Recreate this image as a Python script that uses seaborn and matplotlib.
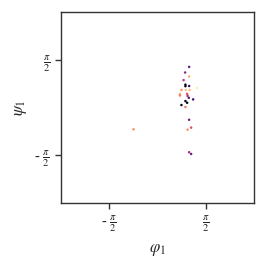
import numpy as np
import pandas as pd
import seaborn as sns
import matplotlib
matplotlib.use('Agg')
import matplotlib.pyplot as plt

# 二面角数据 (弧度)
phi = [1.03, 0.90, 1.03, 0.85, 0.91, 0.91, 1.03, 1.28, 0.78, 0.92,
       1.05, 0.73, 0.73, 0.965, 0.98, 1.02, 1.16, 0.91, 0.965, 0.78,
       0.91, 1.03, 1.095, 0.98, -0.78, 1.03, 1.095]
psi = [1.334, 1.15, 1.02, 0.90, 0.75, 0.70, 0.706, 0.64, 0.576, 0.576,
       0.576, 0.447, 0.395, 0.447, 0.38, 0.317, 0.266, 0.21, 0.155, 0.08,
       0.016, -0.405, -0.664, -0.73, -0.72, -1.473, -1.53]
# 颜色值 (magma)
level = [0.30, 0.40, 0.82, 0.50, 0.02, 0.02, 0.18, 0.97, 0.78, 0.88,
         0.86, 0.85, 0.70, 0.62, 0.48, 0.30, 0.20, 0.03, 0.03, 0.02,
         0.72, 0.32, 0.60, 0.76, 0.75, 0.45, 0.32]

tick_vals = [-np.pi / 2, np.pi / 2]
tick_labels = [r'- $\frac{\pi}{2}$', r'$\frac{\pi}{2}$']

sns.set_theme(style='ticks')
plt.rcParams['font.family'] = ['Liberation Serif', 'DejaVu Serif']
plt.rcParams['mathtext.fontset'] = 'stix'

df = pd.DataFrame({'phi': phi, 'psi': psi, 'level': level})

fig = plt.figure(figsize=(2.66, 2.66), dpi=100)
ax = fig.add_axes([0.229, 0.237, 0.726, 0.718])
sns.scatterplot(data=df, x='phi', y='psi', hue='level', palette='magma',
                hue_norm=(0, 1), s=3.2, marker='o', linewidth=0,
                legend=False, ax=ax)

ax.set_xlim(-np.pi, np.pi)
ax.set_ylim(-np.pi, np.pi)
ax.set_xticks(tick_vals, tick_labels)
ax.set_yticks(tick_vals, tick_labels)
ax.tick_params(axis='both', labelsize=10.5, length=4, width=1, color='#333333')
ax.set_xlabel(r'$\varphi_1$', fontsize=12, labelpad=6)
ax.set_ylabel(r'$\psi_1$', fontsize=12)
for sp in ax.spines.values():
    sp.set_color('#333333')
    sp.set_linewidth(1.0)

fig.savefig('out.png', dpi=100)
